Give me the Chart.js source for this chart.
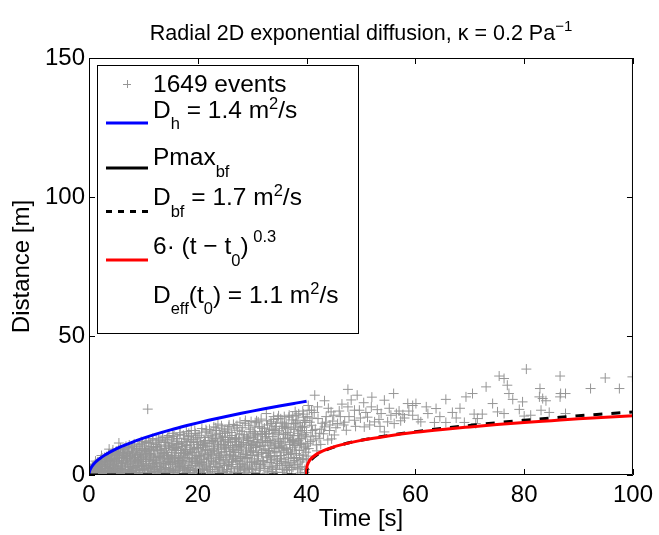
<!DOCTYPE html>
<html><head><meta charset="utf-8">
<script src="https://cdn.jsdelivr.net/npm/chart.js@4.4.1/dist/chart.umd.min.js"></script>
<style>html,body{margin:0;padding:0;background:#fff;}</style>
</head><body>
<canvas id="c" width="659" height="535" style="width:659px;height:535px;display:block"></canvas>
<script>
const xTicks = [0, 20, 40, 60, 80, 100];
const yTicks = [0, 50, 100, 150];

// events (time [s], distance [m]) estimated from the scatter cloud
const eventT = [
0.1,0.2,0.3,0.5,0.6,0.8,0.9,0.4,0.7,
1.1,1.3,1.4,1.6,1.7,1.9,1.2,1.8,
2.1,2.2,2.4,2.5,2.7,2.8,2.9,2.3,
3.0,3.2,3.3,3.5,3.6,3.7,3.8,3.9,3.4,
4.0,4.2,4.3,4.5,4.6,4.7,4.8,4.9,4.4,
5.0,5.1,5.3,5.5,5.6,5.7,5.8,5.9,5.4,
6.0,6.1,6.3,6.4,6.5,6.7,6.8,6.9,6.2,
7.0,7.1,7.3,7.4,7.6,7.7,7.8,7.9,7.5,
8.0,8.1,8.3,8.4,8.6,8.7,8.8,8.9,8.5,
9.0,9.2,9.3,9.4,9.6,9.7,9.8,9.9,9.5,
10.0,10.2,10.3,10.5,10.6,10.8,10.7,10.9,10.4,
11.0,11.2,11.3,11.5,11.6,11.8,11.9,11.4,11.7,
12.0,12.1,12.3,12.4,12.6,12.7,12.8,12.9,12.5,
13.0,13.2,13.3,13.5,13.6,13.7,13.8,13.9,13.4,
14.0,14.1,14.3,14.4,14.6,14.7,14.8,14.9,14.5,
15.0,15.2,15.3,15.5,15.6,15.7,15.8,15.9,15.4,
16.0,16.1,16.3,16.4,16.6,16.7,16.8,16.9,16.5,
17.0,17.2,17.3,17.5,17.6,17.7,17.8,17.9,17.4,
18.0,18.1,18.3,18.4,18.6,18.7,18.8,18.9,18.5,
19.0,19.2,19.3,19.5,19.6,19.7,19.8,19.9,19.4,
20.0,20.2,20.3,20.5,20.6,20.7,20.8,20.9,20.4,
21.0,21.2,21.3,21.5,21.6,21.7,21.8,21.9,21.4,
22.0,22.1,22.3,22.4,22.6,22.7,22.8,22.9,22.5,
23.0,23.2,23.3,23.5,23.6,23.7,23.8,23.9,23.4,
24.0,24.2,24.3,24.5,24.6,24.7,24.8,24.9,24.4,
25.0,25.2,25.3,25.5,25.6,25.7,25.8,25.9,25.4,
26.0,26.2,26.3,26.5,26.6,26.7,26.8,26.9,26.4,
27.0,27.2,27.3,27.5,27.6,27.7,27.8,27.9,27.4,
28.0,28.1,28.3,28.4,28.6,28.7,28.8,28.9,28.5,
29.0,29.2,29.3,29.5,29.6,29.7,29.8,29.9,29.4,
30.0,30.2,30.3,30.5,30.6,30.8,30.7,30.9,30.4,
31.0,31.1,31.3,31.5,31.6,31.7,31.8,31.9,31.4,
32.0,32.2,32.3,32.5,32.6,32.7,32.8,32.9,32.4,
33.0,33.2,33.3,33.5,33.6,33.7,33.8,33.9,33.4,
34.0,34.2,34.3,34.5,34.7,34.6,34.8,34.9,34.4,
35.0,35.2,35.3,35.5,35.6,35.7,35.8,35.9,35.4,
36.0,36.2,36.3,36.5,36.6,36.7,36.8,36.9,36.4,
37.0,37.2,37.3,37.5,37.6,37.7,37.8,37.9,37.4,
38.0,38.1,38.3,38.4,38.6,38.7,38.8,38.9,38.5,
39.0,39.2,39.3,39.5,39.6,39.7,39.8,39.9,39.4,
0.05,0.15,0.25,0.35,0.45,0.55,0.65,0.75,0.85,0.95,
1.05,1.15,1.25,1.35,1.45,1.55,1.65,1.75,1.85,1.95,
2.05,2.15,2.25,2.35,2.45,2.55,2.65,2.75,2.85,2.95,
3.05,3.15,3.25,3.35,3.45,3.55,3.65,3.75,3.85,3.95,
4.05,4.15,4.25,4.35,4.45,4.55,4.65,4.75,4.85,4.95,
5.05,5.15,5.25,5.35,5.45,5.55,5.65,5.75,5.85,5.95,
6.05,6.15,6.25,6.35,6.45,6.55,6.65,6.75,6.85,6.95,
7.05,7.15,7.25,7.35,7.45,7.55,7.65,7.75,7.85,7.95,
8.05,8.15,8.25,8.35,8.45,8.55,8.65,8.75,8.85,8.95,
9.05,9.15,9.25,9.35,9.45,9.55,9.65,9.75,9.85,9.95,
10.05,10.15,10.25,10.35,10.45,10.55,10.65,10.75,10.85,10.95,
11.05,11.15,11.25,11.35,11.45,11.55,11.65,11.75,11.85,11.95,
12.05,12.15,12.25,12.35,12.45,12.55,12.65,12.75,12.85,12.95,
13.05,13.15,13.25,13.35,13.45,13.55,13.65,13.75,13.85,13.95,
14.05,14.15,14.25,14.35,14.45,14.55,14.65,14.75,14.85,14.95,
15.05,15.15,15.25,15.35,15.45,15.55,15.65,15.75,15.85,15.95,
16.05,16.15,16.25,16.35,16.45,16.55,16.65,16.75,16.85,16.95,
17.05,17.15,17.25,17.35,17.45,17.55,17.65,17.75,17.85,17.95,
18.05,18.15,18.25,18.35,18.45,18.55,18.65,18.75,18.85,18.95,
19.05,19.15,19.25,19.35,19.45,19.55,19.65,19.75,19.85,19.95,
20.05,20.15,20.25,20.35,20.45,20.55,20.65,20.75,20.85,20.95,
21.05,21.15,21.25,21.35,21.45,21.55,21.65,21.75,21.85,21.95,
22.05,22.15,22.25,22.35,22.45,22.55,22.65,22.75,22.85,22.95,
23.05,23.15,23.25,23.35,23.45,23.55,23.65,23.75,23.85,23.95,
24.05,24.15,24.25,24.35,24.45,24.55,24.65,24.75,24.85,24.95,
25.05,25.15,25.25,25.35,25.45,25.55,25.65,25.75,25.85,25.95,
26.05,26.15,26.25,26.35,26.45,26.55,26.65,26.75,26.85,26.95,
27.05,27.15,27.25,27.35,27.45,27.55,27.65,27.75,27.85,27.95,
28.05,28.15,28.25,28.35,28.45,28.55,28.65,28.75,28.85,28.95,
29.05,29.15,29.25,29.35,29.45,29.55,29.65,29.75,29.85,29.95,
30.05,30.15,30.25,30.35,30.45,30.55,30.65,30.75,30.85,30.95,
31.05,31.15,31.25,31.35,31.45,31.55,31.65,31.75,31.85,31.95,
32.05,32.15,32.25,32.35,32.45,32.55,32.65,32.75,32.85,32.95,
33.05,33.15,33.25,33.35,33.45,33.55,33.65,33.75,33.85,33.95,
34.05,34.15,34.25,34.35,34.45,34.55,34.65,34.75,34.85,34.95,
35.05,35.15,35.25,35.35,35.45,35.55,35.65,35.75,35.85,35.95,
36.05,36.15,36.25,36.35,36.45,36.55,36.65,36.75,36.85,36.95,
37.05,37.15,37.25,37.35,37.45,37.55,37.65,37.75,37.85,37.95,
38.05,38.15,38.25,38.35,38.45,38.55,38.65,38.75,38.85,38.95,
39.05,39.15,39.25,39.35,39.45,39.55,39.65,39.75,39.85,39.95,
0.12,0.37,0.62,0.87, 1.12,1.37,1.62,1.87, 2.12,2.37,2.62,2.87, 3.12,3.37,3.62,3.87,
4.12,4.37,4.62,4.87, 5.12,5.37,5.62,5.87, 6.12,6.37,6.62,6.87, 7.12,7.37,7.62,7.87,
8.12,8.37,8.62,8.87, 9.12,9.37,9.62,9.87, 10.12,10.37,10.62,10.87, 11.12,11.37,11.62,11.87,
12.12,12.37,12.62,12.87, 13.12,13.37,13.62,13.87, 14.12,14.37,14.62,14.87, 15.12,15.37,15.62,15.87,
16.12,16.37,16.62,16.87, 17.12,17.37,17.62,17.87, 18.12,18.37,18.62,18.87, 19.12,19.37,19.62,19.87,
20.12,20.37,20.62,20.87, 21.12,21.37,21.62,21.87, 22.12,22.37,22.62,22.87, 23.12,23.37,23.62,23.87,
24.12,24.37,24.62,24.87, 25.12,25.37,25.62,25.87, 26.12,26.37,26.62,26.87, 27.12,27.37,27.62,27.87,
28.12,28.37,28.62,28.87, 29.12,29.37,29.62,29.87, 30.12,30.37,30.62,30.87, 31.12,31.37,31.62,31.87,
32.12,32.37,32.62,32.87, 33.12,33.37,33.62,33.87, 34.12,34.37,34.62,34.87, 35.12,35.37,35.62,35.87,
36.12,36.37,36.62,36.87, 37.12,37.37,37.62,37.87, 38.12,38.37,38.62,38.87, 39.12,39.37,39.62,39.87,
40.0,40.2,40.5,40.3,40.6,40.8,40.9,40.4,40.9,
41.5,41.2,41.6,41.8,41.0,41.9,
42.1,42.4,42.6,42.9,42.3,
43.3,43.3,43.9,43.6,43.1,
44.5,44.2,44.8,44.6,
45.1,45.7,47.3,47.6,47.6,48.8,48.8,49.3,49.7,50.5,50.6,51.9,52.5,53.7,54.3,54.3,54.9,56.0,56.1,56.5,57.7,58.6,59.5,59.5,
46.2,47.0,51.2,53.0,55.2,57.0,46.5,48.2,52.0,58.0,
40.1,40.3,40.7,41.1,41.4,41.7,42.0,42.7,43.5,44.0,44.3,45.0,45.4,46.0,46.8,47.8,49.0,49.9,50.9,51.6,53.3,53.5,55.5,57.3,58.8,60.5,62.0,64.5,67.5,68.2,
60.1,61.0,62.3,63.5,63.8,65.6,65.6,66.8,69.0,69.3,70.5,70.8,71.1,71.4,72.3,73.0,74.2,75.1,75.4,76.3,76.3,76.9,77.2,77.9,79.1,79.7,80.0,80.4,
82.9,82.8,83.4,84.0,83.1,84.6,81.2,86.6,86.7,87.6,86.6,87.6,92.2,94.9,97.5,99.9
];
const eventD = [
0.5,1.2,2.0,0.3,2.8,1.5,3.4,0.9,2.2,
3.8,0.6,2.5,4.6,1.4,3.1,5.0,0.2,
4.2,1.0,6.1,2.9,0.4,5.3,3.6,7.0,
1.8,6.6,4.4,0.8,7.5,9.3,2.6,5.2,3.3,
6.0,1.2,8.1,3.9,0.3,5.6,7.2,2.4,9.0,
4.6,8.6,1.9,11.5,6.4,3.2,9.7,0.7,7.8,
5.1,2.8,9.1,0.5,7.0,3.9,10.3,6.0,1.5,
8.2,4.3,1.1,10.8,6.7,2.6,9.4,5.3,0.4,
7.5,3.0,11.2,5.8,0.9,9.0,2.1,6.9,4.4,
10.1,1.6,7.9,4.8,12.0,3.4,8.8,0.6,6.2,
5.5,9.6,2.3,11.7,7.1,23.7,0.8,4.0,8.4,
12.3,3.2,6.8,10.2,1.3,8.9,5.0,0.4,13.1,
7.6,2.0,11.0,4.5,9.3,0.7,12.6,6.3,3.1,
10.4,5.7,1.4,13.5,8.2,3.6,11.8,6.9,0.3,
9.5,2.7,12.9,7.3,4.9,14.2,1.0,10.7,6.0,
3.8,11.4,8.0,13.8,0.9,5.9,9.9,2.5,15.0,
7.1,12.1,4.3,10.0,1.7,14.6,6.5,8.8,3.0,
11.6,5.2,0.6,13.2,9.2,2.9,7.7,15.6,4.0,
10.6,1.9,13.9,6.2,8.5,3.5,16.0,11.9,0.5,
5.4,12.8,9.0,2.2,14.9,7.0,4.1,10.9,0.8,
13.3,6.6,1.2,11.1,8.3,15.4,3.7,9.8,5.0,
2.4,12.4,7.6,16.3,4.7,10.3,0.4,14.0,8.9,
6.0,11.3,3.1,15.1,8.6,1.3,13.0,9.6,5.3,
12.0,4.4,17.0,7.8,0.7,18.3,10.1,2.7,14.5,
6.4,13.6,9.3,1.8,16.6,5.1,11.0,3.4,8.0,
15.0,7.2,2.0,12.7,10.0,17.4,4.6,8.5,0.6,
11.8,3.8,14.2,6.7,9.2,1.1,16.9,13.1,5.5,
8.1,17.8,2.6,12.2,6.0,14.8,10.5,4.0,0.9,
9.7,15.7,5.0,12.9,1.5,18.6,7.4,11.2,3.2,
14.0,6.3,10.8,2.3,16.5,8.7,19.2,4.7,12.4,
7.0,13.4,0.8,17.2,9.9,19.5,4.2,11.6,15.0,
5.8,19.1,10.4,2.9,14.6,8.0,16.8,12.5,0.5,
9.0,3.6,15.6,11.9,22.1,6.5,18.0,1.4,13.3,
7.9,16.2,4.5,18.5,10.7,13.8,2.1,20.0,6.1,
12.6,8.4,17.5,0.9,20.3,5.4,14.7,10.2,3.3,
15.9,6.9,11.5,19.0,2.5,13.0,8.9,21.0,4.8,
9.5,17.0,1.7,13.6,17.3,6.2,21.5,11.0,4.0,
14.4,7.6,19.8,2.8,12.0,16.4,5.2,22.8,9.8,
10.6,21.5,3.9,19.7,14.1,7.1,17.6,0.7,12.3,
16.0,5.6,23.0,10.0,18.9,2.0,13.7,8.2,20.8,
0.2,1.0,0.6,2.4,0.1,1.7,3.0,0.8,1.3,0.4,
1.9,0.3,3.4,1.1,4.1,0.7,2.7,1.5,0.1,2.2,
2.0,5.6,0.9,3.8,1.6,4.7,0.2,3.1,6.3,1.3,
4.9,1.1,6.2,2.3,0.4,3.7,7.1,1.6,5.5,2.9,
2.7,6.9,0.9,4.3,7.8,1.7,3.5,5.9,0.5,8.4,
5.3,1.4,7.3,3.0,9.0,0.4,6.0,2.3,8.1,4.1,
3.3,8.0,1.0,6.3,4.6,9.6,2.1,7.5,0.3,5.4,
6.0,2.0,9.9,3.6,7.1,0.8,4.9,8.6,1.6,10.4,
1.4,8.3,4.0,10.4,2.7,6.3,0.5,9.5,3.4,5.2,
7.2,2.9,10.9,0.9,5.6,9.3,4.2,1.9,11.4,6.7,
3.7,10.4,1.5,6.4,12.1,4.9,8.9,0.3,7.7,2.6,
9.6,5.6,2.3,11.4,7.3,0.9,4.1,12.6,6.2,3.0,
1.3,8.7,5.3,13.0,3.6,10.3,7.1,0.5,11.8,2.5,
6.6,2.1,12.3,9.0,4.2,14.0,0.8,7.7,5.0,10.8,
11.7,4.1,8.1,0.4,13.5,6.4,2.3,9.8,5.5,1.5,
2.0,7.0,12.6,4.9,10.5,1.2,14.1,6.3,8.8,3.2,
9.5,3.6,13.1,0.6,6.0,11.3,5.0,15.2,2.8,8.0,
4.6,10.3,1.5,14.3,7.1,2.4,12.0,8.6,5.8,0.9,
12.7,7.7,2.7,15.0,4.9,10.0,1.0,9.1,14.3,5.8,
8.1,1.7,11.7,6.0,16.0,3.3,13.6,0.4,9.9,5.0,
3.2,9.4,14.3,7.0,0.9,12.0,4.5,16.7,2.0,10.6,
11.1,5.6,1.7,13.5,9.1,3.5,15.8,7.2,0.8,6.5,
4.0,16.4,8.0,2.0,11.9,6.9,14.1,0.5,10.4,17.3,
9.0,1.9,13.1,5.8,16.0,3.1,11.5,7.2,0.6,15.0,
2.5,10.8,6.9,17.7,4.2,14.0,0.9,12.1,8.4,15.6,
13.6,5.7,9.4,1.3,16.2,3.3,11.6,18.0,7.1,0.3,
7.5,15.3,2.4,10.6,4.7,18.2,8.6,0.7,12.7,6.0,
4.8,11.0,16.1,1.8,8.9,13.4,3.0,19.0,6.6,10.1,
10.9,3.9,17.0,7.6,0.5,14.5,5.8,19.6,2.6,9.0,
6.0,13.2,1.0,17.9,9.7,4.4,15.5,11.5,2.9,8.2,
2.0,15.7,8.6,12.1,5.0,18.8,0.6,10.5,3.7,14.0,
12.8,6.8,1.7,17.4,10.3,3.8,20.1,8.0,15.0,5.2,
4.9,10.7,16.9,2.3,13.8,7.8,19.5,0.7,11.8,8.8,
14.9,8.6,3.0,11.6,19.1,5.5,16.5,1.2,9.6,21.0,
6.7,16.2,11.2,2.0,18.6,8.0,4.1,13.0,21.3,9.9,
3.5,12.2,20.2,7.0,16.8,1.0,10.0,14.5,5.7,18.0,
13.1,4.6,18.6,9.1,0.6,15.3,7.4,20.8,2.7,11.6,
8.3,16.9,1.9,12.4,21.2,5.9,14.2,10.6,3.6,18.4,
19.0,6.3,11.5,2.2,15.8,22.0,8.8,13.2,4.7,17.0,
11.0,3.0,17.4,7.2,21.9,14.5,0.9,9.3,19.6,5.4,
1.6,0.9,2.6,0.3, 2.9,0.5,3.6,1.8, 4.4,2.4,0.7,5.0, 3.0,5.8,1.2,4.0,
6.4,2.0,4.9,1.1, 2.6,5.0,7.0,0.9, 4.3,8.2,1.8,6.6, 7.7,3.1,5.7,1.2,
2.4,6.1,8.0,4.7, 5.1,0.9,7.4,3.0, 1.9,6.0,3.4,9.2, 7.8,2.7,5.3,10.0,
4.0,9.8,1.7,6.6, 8.9,3.0,6.0,1.0, 2.0,7.0,10.3,4.5, 6.7,1.6,9.2,4.2,
11.0,5.3,2.1,7.8, 3.3,8.0,6.3,10.9, 7.3,2.1,12.2,4.6, 1.6,9.5,6.4,11.8,
10.0,4.0,7.5,1.8, 6.1,11.6,2.9,9.0, 2.6,7.3,12.4,4.9, 8.6,3.9,10.9,6.2,
5.5,12.6,1.4,9.8, 10.5,6.4,3.7,13.5, 3.0,9.8,7.1,12.0, 13.0,5.2,10.2,2.2,
6.5,11.7,1.9,8.3, 3.6,13.6,7.0,10.6, 11.0,4.6,14.4,8.0, 7.3,2.4,11.7,15.6,
4.3,9.4,14.7,6.4, 12.4,7.0,2.6,16.0, 9.6,15.2,5.0,12.0, 6.0,10.7,17.5,2.0,
14.8,8.0,3.4,11.9, 4.6,12.8,18.5,9.0, 7.7,15.0,2.6,11.4, 13.0,6.0,17.2,10.4,
15.2,11.4,23.3,6.8,19.0,14.0,17.9,9.5,23.3,
28.7,12.6,16.4,10.8,20.5,8.7,
20.3,15.0,11.0,18.6,13.2,
26.7,17.3,12.6,21.0,14.8,
22.7,16.0,19.4,13.0,
14.4,18.5,16.1,30.8,24.5,23.3,19.7,28.7,23.3,26.0,17.3,24.5,19.1,22.1,26.9,15.5,19.1,29.3,18.5,22.1,21.7,25.7,25.0,21.5,
21.0,19.0,20.8,23.5,24.0,23.0,25.5,27.0,28.0,20.5,
21.0,25.0,12.0,16.0,22.5,14.0,24.5,16.5,19.0,24.0,18.0,21.5,17.0,23.0,18.0,21.0,17.5,20.5,22.5,18.0,20.0,17.5,21.5,19.5,23.0,20.0,24.5,21.0,20.5,24.0,
25.7,19.1,22.1,18.9,23.9,27.2,18.9,22.5,18.9,28.1,29.3,21.9,18.5,20.3,21.9,31.7,25.7,22.7,35.6,34.7,22.1,32.3,29.3,27.2,23.6,26.3,21.2,38.1,
31.1,28.1,27.5,26.7,23.3,22.5,21.5,35.6,29.3,29.3,28.1,22.1,31.1,34.9,31.1,35.3
];

// D_h = 1.4 m^2/s front
const blueT = [0, 0.1, 0.25, 0.5, 1, 1.5, 2, 3, 4, 5, 6, 8, 10, 12, 15, 18, 20, 22, 25, 28, 30, 32, 35, 38, 40];
const blueD = [0, 1.33, 2.10, 2.97, 4.19, 5.14, 5.93, 7.26, 8.39, 9.38, 10.27, 11.86, 13.26, 14.53, 16.24, 17.79, 18.76, 19.67, 20.97, 22.19, 22.97, 23.72, 24.81, 25.85, 26.53];
// D_bf = 1.7 m^2/s (dashed)
const dashT = [0, 40, 40.05, 40.2, 40.5, 41, 42, 43, 45, 48, 50, 55, 60, 65, 70, 75, 80, 85, 90, 95, 100];
const dashD = [0, 0, 1.5, 3.0, 4.5, 5.8, 7.4, 8.5, 10.0, 11.7, 12.5, 14.2, 15.6, 16.8, 17.8, 18.8, 19.7, 20.5, 21.3, 22.0, 22.7];
// 6·(t − t0)^0.3
const redT = [40, 40.05, 40.2, 40.5, 41, 42, 43, 45, 48, 50, 55, 60, 65, 70, 75, 80, 85, 90, 95, 100];
const redD = [0, 2.5, 3.85, 5.07, 6.24, 7.69, 8.67, 10.1, 11.65, 12.45, 14.05, 15.35, 16.4, 17.3, 18.15, 18.9, 19.55, 20.2, 20.8, 21.3];

const FONT = "'Liberation Sans', Arial, Helvetica, sans-serif";
const GRAY = 'rgb(150,150,150)';
const zip = (a, b) => a.map((v, i) => ({x: v, y: b[i]}));

const boxPlugin = {
  id: 'matlabBox',
  afterDatasetsDraw(chart) {
    const {ctx, chartArea: a, scales: {x, y}} = chart;
    ctx.save();
    ctx.strokeStyle = '#000';
    ctx.lineWidth = 1;
    ctx.beginPath();
    ctx.rect(a.left + 0.5, a.top + 0.5, a.right - a.left - 1, a.bottom - a.top - 1);
    xTicks.forEach(v => {
      const px = Math.round(x.getPixelForValue(v)) + 0.5;
      ctx.moveTo(px, a.bottom); ctx.lineTo(px, a.bottom - 6);
      ctx.moveTo(px, a.top); ctx.lineTo(px, a.top + 6);
    });
    yTicks.forEach(v => {
      const py = Math.round(y.getPixelForValue(v)) + 0.5;
      ctx.moveTo(a.left, py); ctx.lineTo(a.left + 6, py);
      ctx.moveTo(a.right, py); ctx.lineTo(a.right - 6, py);
    });
    ctx.stroke();
    ctx.restore();
  }
};

function rich(ctx, x, y, parts, size, small) {
  // parts: [text, dy] ; dy=0 normal, >0 subscript, <0 superscript
  let cx = x;
  parts.forEach(([t, dy]) => {
    ctx.font = (dy === 0 ? size : small) + 'px ' + FONT;
    ctx.fillText(t, cx, y + dy);
    cx += ctx.measureText(t).width;
  });
  return cx;
}
function richWidth(ctx, parts, size, small) {
  let w = 0;
  parts.forEach(([t, dy]) => { ctx.font = (dy === 0 ? size : small) + 'px ' + FONT; w += ctx.measureText(t).width; });
  return w;
}

const textPlugin = {
  id: 'texts',
  afterDraw(chart) {
    const {ctx, chartArea: a} = chart;
    ctx.save();
    ctx.fillStyle = '#000';
    ctx.textBaseline = 'alphabetic';
    ctx.textAlign = 'left';
    // title
    const tparts = [['Radial 2D exponential diffusion, \u03BA = 0.2 Pa', 0], ['\u22121', -9]];
    const tw = richWidth(ctx, tparts, 21.5, 15);
    rich(ctx, (a.left + a.right) / 2 - tw / 2, 40, tparts, 21.5, 15);

    // legend
    const L = 97, T = 65, W = 261, H = 268;
    ctx.fillStyle = '#fff';
    ctx.fillRect(L, T, W, H);
    ctx.strokeStyle = '#000';
    ctx.lineWidth = 1;
    ctx.strokeRect(L + 0.5, T + 0.5, W, H);
    ctx.fillStyle = '#000';
    const tx = 153, F = 24.5, S = 16.5;
    // + marker
    ctx.strokeStyle = GRAY; ctx.lineWidth = 1;
    ctx.beginPath();
    ctx.moveTo(123, 84.5); ctx.lineTo(131, 84.5);
    ctx.moveTo(127.5, 80); ctx.lineTo(127.5, 88);
    ctx.stroke();
    rich(ctx, tx, 92, [['1649 events', 0]], F, S);
    const seg = (color, yy, dash) => {
      ctx.save();
      ctx.strokeStyle = color; ctx.lineWidth = 3;
      if (dash) ctx.setLineDash(dash);
      ctx.beginPath(); ctx.moveTo(106, yy); ctx.lineTo(148, yy); ctx.stroke();
      ctx.restore();
    };
    seg('#0000ff', 123);
    rich(ctx, tx, 118, [['D', 0], ['h', 11], [' = 1.4 m', 0], ['2', -9], ['/s', 0]], F, S);
    seg('#000000', 168);
    rich(ctx, tx, 165, [['Pmax', 0], ['bf', 12]], F, S);
    seg('#000000', 211.5, [6, 6]);
    rich(ctx, tx, 205, [['D', 0], ['bf', 12], [' = 1.7 m', 0], ['2', -9], ['/s', 0]], F, S);
    seg('#ff0000', 260);
    rich(ctx, tx, 254, [['6\u00B7 (t \u2212 t', 0], ['0', 12], [')', 0], [' 0.3', -12]], F, S);
    rich(ctx, tx, 303, [['D', 0], ['eff', 11], ['(t', 0], ['0', 11], [') = 1.1 m', 0], ['2', -9], ['/s', 0]], F, S);
    ctx.restore();
  }
};

new Chart(document.getElementById('c'), {
  type: 'scatter',
  data: {
    datasets: [
      {label: '1649 events', data: zip(eventT, eventD), pointStyle: 'cross', pointRadius: 5, pointHoverRadius: 5,
       borderColor: GRAY, backgroundColor: GRAY, borderWidth: 1, showLine: false, order: 5},
      {label: 'D_h', data: zip(blueT, blueD), showLine: true, borderColor: '#0000ff', borderWidth: 3,
       pointRadius: 0, cubicInterpolationMode: 'monotone', fill: false, order: 4},
      {label: 'D_bf', data: zip(dashT, dashD), showLine: true, borderColor: '#000000', borderWidth: 3,
       borderDash: [9, 9], pointRadius: 0, cubicInterpolationMode: 'monotone', fill: false, order: 2},
      {label: 'fit', data: zip(redT, redD), showLine: true, borderColor: '#ff0000', borderWidth: 3,
       pointRadius: 0, cubicInterpolationMode: 'monotone', fill: false, order: 1}
    ]
  },
  options: {
    responsive: false, animation: false, devicePixelRatio: 1,
    layout: {padding: {top: 58, right: 25, left: 0, bottom: 0}},
    plugins: {legend: {display: false}, title: {display: false}, tooltip: {enabled: false}},
    events: [],
    scales: {
      x: {type: 'linear', min: 0, max: 100,
        grid: {display: false, drawTicks: false}, border: {display: false},
        afterBuildTicks: s => { s.ticks = xTicks.map(v => ({value: v})); },
        afterFit: s => { s.height = 60; },
        ticks: {color: '#000', font: {family: FONT, size: 24}, padding: 6, maxRotation: 0, autoSkip: false},
        title: {display: true, text: 'Time [s]', color: '#000', font: {family: FONT, size: 24}, padding: {top: 0, bottom: 1}}
      },
      y: {type: 'linear', min: 0, max: 150,
        grid: {display: false, drawTicks: false}, border: {display: false},
        afterBuildTicks: s => { s.ticks = yTicks.map(v => ({value: v})); },
        afterFit: s => { s.width = 89; },
        ticks: {color: '#000', font: {family: FONT, size: 24}, padding: 4, autoSkip: false},
        title: {display: true, text: 'Distance [m]', color: '#000', font: {family: FONT, size: 24}, padding: {top: 8, bottom: 0}}
      }
    }
  },
  plugins: [boxPlugin, textPlugin]
});
</script>
</body></html>
